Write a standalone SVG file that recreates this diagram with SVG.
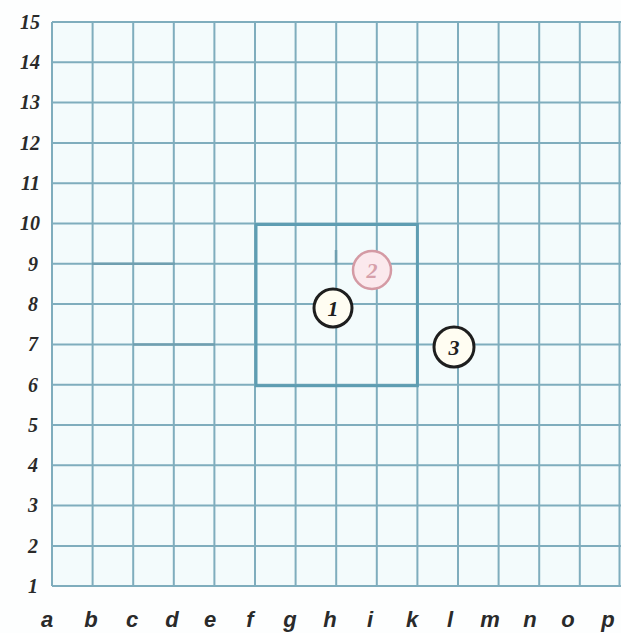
<svg xmlns="http://www.w3.org/2000/svg" width="621" height="633" viewBox="0 0 621 633">
<style>
.g{stroke:#7fadbd;stroke-width:2;fill:none}
.sq{stroke:#5e9db2;stroke-width:3;fill:none}
.n{font-family:"Liberation Serif",serif;font-style:italic;font-weight:bold;font-size:20px;fill:#2a2a2a;text-anchor:end}
.l{font-family:"Liberation Sans",sans-serif;font-style:italic;font-weight:bold;font-size:22px;fill:#2a2a2a;text-anchor:middle}
.c{stroke:#1e1e1e;stroke-width:3;fill:#fffdf2}
.cp{stroke:#d49aa4;stroke-width:2.5;fill:#fbe9ed}
.ct{font-family:"Liberation Serif",serif;font-style:italic;font-weight:bold;font-size:22px;text-anchor:middle;fill:#1e1e1e}
</style>
<rect width="621" height="633" fill="#fdfefe"/>
<rect x="52" y="22" width="569" height="564" fill="#f3fbfc"/>
<g id="grid">
<path class="g" d="M52 22V586M92.6 22V586M133.2 22V586M173.8 22V586M214.4 22V586M255 22V586M295.6 22V586M336.2 22V586M376.8 22V586M417.4 22V586M458 22V586M498.6 22V586M539.2 22V586M579.8 22V586M619.5 22V586"/>
<path class="g" d="M52 22H621M52 62.3H621M52 102.6H621M52 142.9H621M52 183.2H621M52 223.5H621M52 263.8H621M52 304.1H621M52 344.4H621M52 384.7H621M52 425H621M52 465.3H621M52 505.6H621M52 545.9H621M52 586H621"/>
<path stroke="#6f9fb0" stroke-width="2.5" d="M133 344.4H215M92 263.8H175M336 250V265"/>
</g>
<g id="square"><rect class="sq" x="256" y="224.5" width="161.4" height="161.2"/></g>
<g id="row-labels">
<text class="n" x="40" y="29">15</text>
<text class="n" x="40" y="69">14</text>
<text class="n" x="40" y="109">13</text>
<text class="n" x="40" y="150">12</text>
<text class="n" x="40" y="190">11</text>
<text class="n" x="40" y="230">10</text>
<text class="n" x="38" y="271">9</text>
<text class="n" x="38" y="311">8</text>
<text class="n" x="38" y="351">7</text>
<text class="n" x="38" y="392">6</text>
<text class="n" x="38" y="432">5</text>
<text class="n" x="38" y="472">4</text>
<text class="n" x="38" y="512">3</text>
<text class="n" x="38" y="553">2</text>
<text class="n" x="38" y="593">1</text>
</g>
<g id="col-labels">
<text class="l" x="47" y="627">a</text>
<text class="l" x="91" y="627">b</text>
<text class="l" x="132" y="627">c</text>
<text class="l" x="172" y="627">d</text>
<text class="l" x="210" y="627">e</text>
<text class="l" x="250" y="627">f</text>
<text class="l" x="290" y="627">g</text>
<text class="l" x="330" y="627">h</text>
<text class="l" x="370" y="627">i</text>
<text class="l" x="412" y="627">k</text>
<text class="l" x="450" y="627">l</text>
<text class="l" x="490" y="627">m</text>
<text class="l" x="530" y="627">n</text>
<text class="l" x="568" y="627">o</text>
<text class="l" x="608" y="627">p</text>
</g>
<g id="node1"><circle class="c" cx="333" cy="308" r="19"/><text class="ct" x="333" y="316">1</text></g>
<g id="node2"><circle class="cp" cx="372" cy="270" r="19"/><text class="ct" x="372" y="278" style="fill:#d6a0aa">2</text></g>
<g id="node3"><circle class="c" cx="454" cy="347" r="20"/><text class="ct" x="454" y="355">3</text></g>
</svg>
